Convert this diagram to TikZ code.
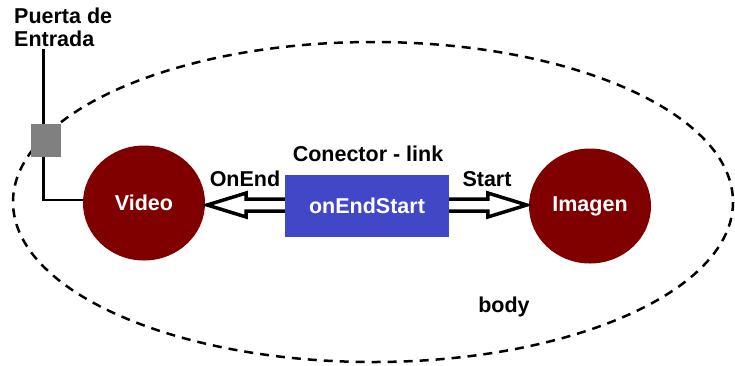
\documentclass[tikz,border=0pt]{standalone}
\usepackage{fontspec}
\setmainfont{Liberation Sans}
\usetikzlibrary{shapes.geometric,calc}
\definecolor{darkred}{HTML}{800000}
\definecolor{linkblue}{HTML}{4048C8}
\definecolor{gategray}{HTML}{808080}
\tikzset{
  circ/.style={ellipse, minimum width=122pt, minimum height=115pt, inner sep=0pt, fill=darkred, text=white},
  linkbox/.style={rectangle, minimum width=164pt, minimum height=62pt, inner sep=0pt, fill=linkblue, text=white},
  gatebox/.style={rectangle, minimum width=30pt, minimum height=33pt, inner sep=0pt, fill=gategray},
  lbl/.style={inner sep=0pt},
  hollow/.style={line width=3.5pt, fill=white, line join=miter},
  wire/.style={line width=2.8pt},
  bodyline/.style={line width=2.5pt, dash pattern=on 9pt off 7pt}
}
\begin{document}
\begin{tikzpicture}[x=1pt,y=-1pt,font=\fontsize{21.5}{23}\selectfont\bfseries]
\useasboundingbox (0,0) rectangle (735,365);
% body ellipse
\draw[bodyline] (373,202) ellipse [x radius=360, y radius=160];
\node[lbl] (body) at (504,307) {body};
% nodes
\node[circ] (video) at (144,203) {Video};
\node[circ] (imagen) at (590,206) {Imagen};
\node[gatebox] (gate) at (46,140.5) {};
\node[lbl, anchor=north west, align=left] (puerta) at (14,8) {Puerta de\\Entrada};
% gate wires
\draw[wire] ([xshift=-2.5pt]gate.north) -- ([xshift=-2.5pt,yshift=-2pt]gate.north |- puerta.south);
\draw[wire] ([xshift=-2.5pt]gate.south) |- ($(video.west)+(0,-3)$);
% hollow arrows
\draw[hollow] ($(video.east |- 0,205)+(2,0)$) -- ++(39,-12) -- ++(0,6) -- ++(42,0) -- ++(0,12) -- ++(-42,0) -- ++(0,6) -- cycle;
\draw[hollow] ($(imagen.west |- 0,205)+(-2,0)$) -- ++(-39,-12) -- ++(0,6) -- ++(-42,0) -- ++(0,12) -- ++(42,0) -- ++(0,6) -- cycle;
\node[linkbox] (link) at (367,206) {onEndStart};
% labels
\node[lbl] (conector) at (368,154) {Conector - link};
\node[lbl] (onend) at (245,179) {OnEnd};
\node[lbl] (start) at (487,179) {Start};
\end{tikzpicture}
\end{document}
